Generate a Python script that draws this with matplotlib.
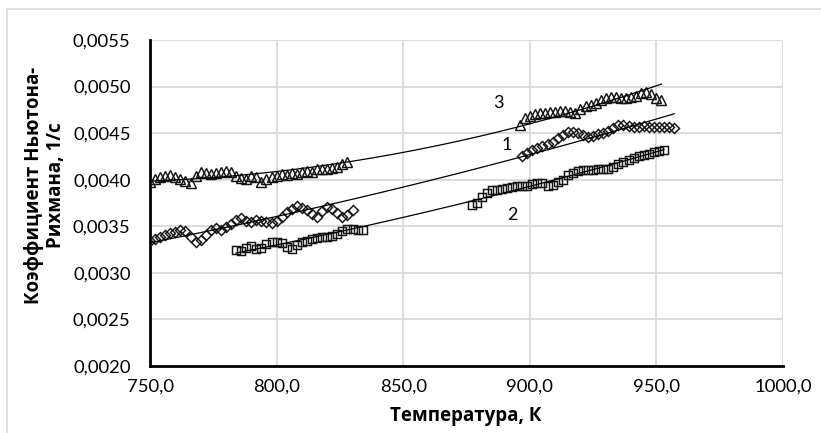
import numpy as np
import matplotlib
matplotlib.use('Agg')
import matplotlib.pyplot as plt
from matplotlib.ticker import FuncFormatter, MultipleLocator
from matplotlib.patches import Rectangle

plt.rcParams['font.family'] = ['Lato', 'Open Sans', 'DejaVu Sans']

# Серия 3 (треугольники)
t3 = [750, 752, 754, 756, 758, 760, 762, 764, 766, 768, 770, 772, 774, 776, 778, 780,
      782, 784, 786, 788, 790, 792, 794, 796, 798, 800, 802, 804, 806, 808, 810, 812,
      814, 816, 818, 820, 822, 824, 826, 828,
      896, 898, 900, 902, 904, 906, 908, 910, 912, 914, 916, 918, 920, 922, 924, 926,
      928, 930, 932, 934, 936, 938, 940, 942, 944, 946, 948, 950, 952]
k3 = [0.00398, 0.00401, 0.00403, 0.00404, 0.00405, 0.00403, 0.00401, 0.00399, 0.00397,
      0.00404, 0.00408, 0.00407, 0.00406, 0.00407, 0.00408, 0.00409, 0.00408, 0.00404,
      0.00402, 0.00401, 0.00404, 0.00403, 0.00398, 0.00401, 0.00403, 0.00404, 0.00406,
      0.00405, 0.00407, 0.00406, 0.00408, 0.00409, 0.00408, 0.00411, 0.00412, 0.00411,
      0.00413, 0.00414, 0.00417, 0.00419,
      0.00459, 0.00466, 0.00468, 0.00471, 0.00472, 0.00472, 0.00473, 0.00473, 0.00474,
      0.00474, 0.00473, 0.00472, 0.00476, 0.00479, 0.00480, 0.00482, 0.00486, 0.00488,
      0.00489, 0.00489, 0.00488, 0.00488, 0.00489, 0.00490, 0.00493, 0.00494, 0.00492,
      0.00488, 0.00486]

# Серия 1 (ромбы)
t1 = [750, 752, 754, 756, 758, 760, 762, 764, 766, 768, 770, 772, 774, 776, 778, 780,
      782, 784, 786, 788, 790, 792, 794, 796, 798, 800, 802, 804, 806, 808, 810, 812,
      814, 816, 818, 820, 822, 824, 826, 828, 830,
      897, 899, 901, 903, 905, 907, 909, 911, 913, 915, 917, 919, 921, 923, 925, 927,
      929, 931, 933, 935, 937, 939, 941, 943, 945, 947, 949, 951, 953, 955, 957]
k1 = [0.00334, 0.00336, 0.00339, 0.00341, 0.00343, 0.00344, 0.00346, 0.00345, 0.00339,
      0.00333, 0.00335, 0.00341, 0.00346, 0.00348, 0.00346, 0.00349, 0.00352, 0.00357,
      0.00359, 0.00356, 0.00355, 0.00357, 0.00356, 0.00355, 0.00353, 0.00356, 0.00360,
      0.00365, 0.00369, 0.00372, 0.00370, 0.00367, 0.00363, 0.00360, 0.00366, 0.00371,
      0.00369, 0.00364, 0.00360, 0.00362, 0.00368,
      0.00425, 0.00429, 0.00432, 0.00434, 0.00436, 0.00438, 0.00441, 0.00445, 0.00448,
      0.00451, 0.00451, 0.00450, 0.00448, 0.00446, 0.00447, 0.00449, 0.00450, 0.00452,
      0.00456, 0.00459, 0.00459, 0.00458, 0.00457, 0.00457, 0.00458, 0.00457, 0.00457,
      0.00457, 0.00457, 0.00457, 0.00455]

# Серия 2 (квадраты)
t2 = [784, 786, 788, 790, 792, 794, 796, 798, 800, 802, 804, 806, 808, 810, 812, 814,
      816, 818, 820, 822, 824, 826, 828, 830, 832, 834,
      877, 879, 881, 883, 885, 887, 889, 891, 893, 895, 897, 899, 901, 903, 905, 907,
      909, 911, 913, 915, 917, 919, 921, 923, 925, 927, 929, 931, 933, 935, 937, 939,
      941, 943, 945, 947, 949, 951, 953]
k2 = [0.00325, 0.00324, 0.00327, 0.00329, 0.00326, 0.00327, 0.00331, 0.00333, 0.00333,
      0.00332, 0.00328, 0.00326, 0.00330, 0.00333, 0.00334, 0.00336, 0.00337, 0.00338,
      0.00339, 0.00340, 0.00342, 0.00345, 0.00347, 0.00347, 0.00346, 0.00346,
      0.00373, 0.00375, 0.00381, 0.00386, 0.00389, 0.00389, 0.00390, 0.00391, 0.00392,
      0.00393, 0.00393, 0.00393, 0.00395, 0.00396, 0.00397, 0.00393, 0.00394, 0.00398,
      0.00400, 0.00405, 0.00407, 0.00409, 0.00410, 0.00410, 0.00410, 0.00411, 0.00411,
      0.00412, 0.00414, 0.00417, 0.00419, 0.00421, 0.00423, 0.00425, 0.00426, 0.00428,
      0.00430, 0.00431, 0.00432]

# Подписи кривых
nomera = ['1', '2', '3']
pos_nomerov = [(891, 0.00437), (893, 0.00362), (887.5, 0.00482)]

fig = plt.figure(figsize=(8.21, 4.33), dpi=100)
fig.patches.append(Rectangle((7 / 821, -0.1), 1.2, 1 - 9 / 433 + 0.1,
                             transform=fig.transFigure, fill=False,
                             edgecolor='#d9d9d9', linewidth=1.2))
ax = fig.add_axes([150 / 821, 67 / 433, 633 / 821, 326 / 433])

def tren(t, k):
    # полиномиальная линия тренда (2-я степень)
    t = np.array(t, dtype=float)
    c = np.polyfit(t - 850, k, 2)
    tt = np.linspace(t.min(), t.max(), 200)
    return tt, np.polyval(c, tt - 850)

for t, k, m, ms in [(t3, k3, '^', 6.5), (t1, k1, 'D', 5), (t2, k2, 's', 6)]:
    ax.plot(t, k, linestyle='none', marker=m, markersize=ms, markerfacecolor='none',
            markeredgecolor='#141414', markeredgewidth=1.05, zorder=3)
    tt, kk = tren(t, k)
    ax.plot(tt, kk, color='black', linewidth=0.9, zorder=4)

for n, (x, y) in zip(nomera, pos_nomerov):
    ax.text(x, y, n, fontsize=13, ha='center', va='center')

ax.set_xlim(750, 1000)
ax.set_ylim(0.0020, 0.0055)
ax.xaxis.set_major_locator(MultipleLocator(50))
ax.yaxis.set_major_locator(MultipleLocator(0.0005))
ax.xaxis.set_major_formatter(FuncFormatter(lambda v, p: f'{v:.1f}'.replace('.', ',')))
ax.yaxis.set_major_formatter(FuncFormatter(lambda v, p: f'{v:.4f}'.replace('.', ',')))
ax.tick_params(length=0, labelsize=13.3, colors='#000000')
ax.tick_params(axis='y', pad=14)
ax.tick_params(axis='x', pad=9)
ax.grid(True, color='#d9d9d9', linewidth=1.3, zorder=0)
ax.set_axisbelow(True)
for s in ['top', 'right']:
    ax.spines[s].set_visible(False)
for s in ['left', 'bottom']:
    ax.spines[s].set_linewidth(2)
    ax.spines[s].set_color('black')

fig.text(466 / 821, 1 - 416 / 433, 'Температура, К', ha='center', va='center',
         fontsize=13.5, fontweight='bold', family=['Open Sans', 'DejaVu Sans'])
fig.text(45 / 821, 1 - 185 / 433, 'Коэффициент Ньютона-\nРихмана, 1/с', ha='center',
         va='center', rotation=90, fontsize=13.5, fontweight='bold', linespacing=1.2,
         family=['Open Sans', 'DejaVu Sans'])

fig.savefig('out.png', dpi=100)
